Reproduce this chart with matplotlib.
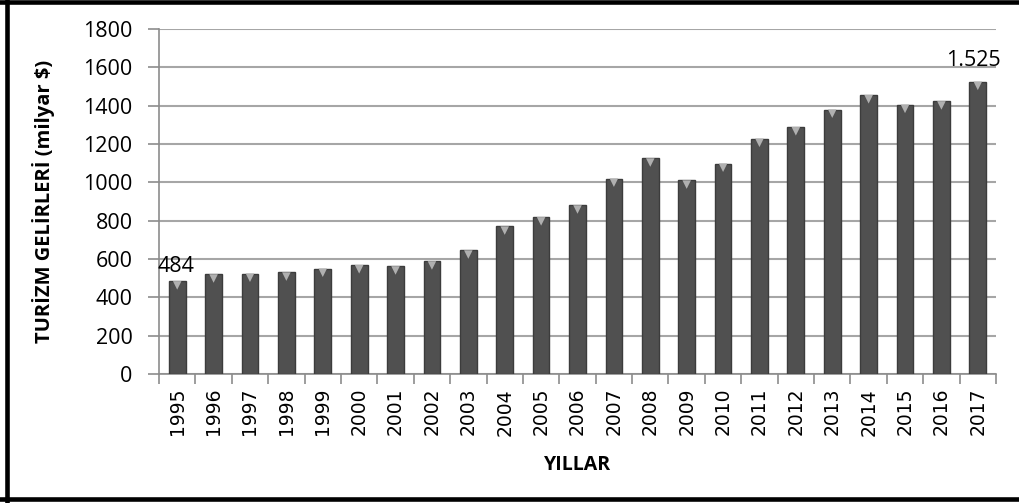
import matplotlib
matplotlib.use("Agg")
import matplotlib.pyplot as plt
import matplotlib.transforms as mtransforms
from matplotlib.lines import Line2D
import numpy as np

years = [str(y) for y in range(1995, 2018)]
receipts = [484, 520, 524, 530, 550, 568, 562, 588, 645, 770, 818, 880,
            1020, 1125, 1010, 1098, 1228, 1288, 1380, 1455, 1405, 1423, 1525]
yticks = [0, 200, 400, 600, 800, 1000, 1200, 1400, 1600, 1800]

plt.rcParams["font.family"] = ["Open Sans", "DejaVu Sans"]

fig = plt.figure(figsize=(10.19, 5.03), dpi=100)
ax = fig.add_axes([159 / 1019, 1 - 374 / 503, (996 - 159) / 1019, 345 / 503])

x = np.arange(len(years))
ax.bar(x, receipts, width=0.46, color="#505050", edgecolor="#3c3c3c",
       linewidth=1.0, zorder=3)
# light bevel triangle on top of each bar
tri = mtransforms.offset_copy(ax.transData, fig=fig, x=0, y=-3, units="points")
ax.scatter(x, receipts, marker="v", s=38, color="#b0b0b0", edgecolors="none",
           transform=tri, zorder=4)

ax.set_xlim(-0.5, len(years) - 0.5)
ax.set_ylim(0, 1800)
ax.set_yticks(yticks)
ax.set_yticklabels([str(t) for t in yticks], fontsize=15.5)
ax.yaxis.grid(True, color="#a6a6a6", linewidth=1.5, zorder=0)
ax.set_axisbelow(True)

ax.set_xticks(x)
ax.set_xticklabels(years, rotation=90, fontsize=13.5, family="DejaVu Sans")
ax.set_xticks(np.arange(len(years) + 1) - 0.5, minor=True)
ax.tick_params(axis="x", which="major", length=0, pad=10)
ax.tick_params(axis="x", which="minor", length=7, width=1.2, color="#8c8c8c")
ax.tick_params(axis="y", length=8, width=1.2, color="#8c8c8c", pad=11)

for side in ["top", "right"]:
    ax.spines[side].set_visible(False)
for side in ["left", "bottom"]:
    ax.spines[side].set_color("#8c8c8c")
    ax.spines[side].set_linewidth(1.2)

ax.set_ylabel("TURİZM GELİRLERİ (milyar $)", fontsize=14.5, fontweight="bold",
              labelpad=20)
ax.set_xlabel("YILLAR", fontsize=14, fontweight="bold", labelpad=14)

ax.annotate("484", (0, receipts[0]), xytext=(-1, 3), textcoords="offset points",
            ha="center", va="bottom", fontsize=15.5)
ax.annotate("1.525", (x[-1], receipts[-1]), xytext=(-3, 8), textcoords="offset points",
            ha="center", va="bottom", fontsize=15.5)

# outer frame (left, top, bottom)
for xs, ys in [([7 / 1019, 7 / 1019], [0, 1]),
               ([0, 1], [1 - 1.5 / 503, 1 - 1.5 / 503]),
               ([0, 1], [4 / 503, 4 / 503])]:
    fig.add_artist(Line2D(xs, ys, color="black", linewidth=3.3,
                          transform=fig.transFigure))

fig.savefig("out.png", dpi=100)
